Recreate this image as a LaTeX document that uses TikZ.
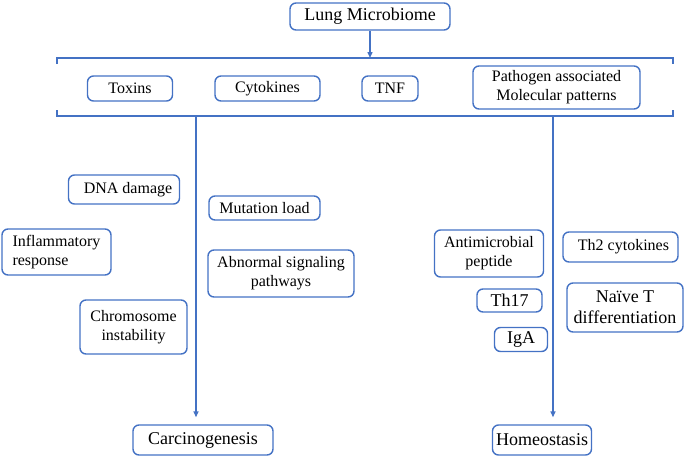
\documentclass[tikz,border=0pt]{standalone}
\usepackage{fontspec}
\setmainfont{LiberationSerif}[Extension=.ttf, UprightFont=*-Regular, BoldFont=*-Bold, ItalicFont=*-Italic, BoldItalicFont=*-BoldItalic]
\usetikzlibrary{arrows.meta}
\definecolor{lineblue}{RGB}{68,114,196}
\begin{document}
\begin{tikzpicture}[x=1pt,y=-1pt,
  box/.style={draw=lineblue, line width=1.4pt, rounded corners=6pt, align=center, inner sep=1pt, font=\fontsize{16}{19}\selectfont},
  bigbox/.style={box, font=\fontsize{18}{21}\selectfont},
  bracket/.style={draw=lineblue, line width=1.4pt},
  link/.style={draw=lineblue, line width=1.4pt, -{Triangle[length=6pt,width=5pt]}}]
\useasboundingbox (0,0) rectangle (685,461);
% top
\node[bigbox, minimum width=160, minimum height=27] (micro) at (370,16.5) {Lung Microbiome};
\node[box, minimum width=85, minimum height=25] (toxins) at (130,88.5) {Toxins};
\node[box, minimum width=105, minimum height=25] (cyto) at (267.5,88.5) {Cytokines};
\node[box, minimum width=56, minimum height=25] (tnf) at (390,88.5) {TNF};
\node[box, minimum width=167, minimum height=43] (pamp) at (556.5,87.5) {Pathogen associated\\Molecular patterns};
% bracket
\coordinate (brtop) at (370,58);
\coordinate (brL) at (196,116);
\coordinate (brR) at (553,116);
\draw[bracket] (57,64) -- (57,58) -- (673,58) -- (673,64);
\draw[bracket] (57,110) -- (57,116) -- (673,116) -- (673,110);
% carcinogenesis side
\node[box, minimum width=111, minimum height=29] (dna) at (124,189.5) {\hspace{8pt}DNA damage};
\node[box, minimum width=111, minimum height=24] (mut) at (264.5,208) {Mutation load};
\node[box, minimum width=109, minimum height=46, align=left] (infl) at (56.5,252) {Inflammatory\hspace{10pt}\\response};
\node[box, minimum width=146, minimum height=47] (abn) at (281,273.5) {Abnormal signaling\\pathways};
\node[box, minimum width=107, minimum height=54] (chrom) at (133.5,327) {Chromosome\\instability};
% homeostasis side
\node[box, minimum width=109, minimum height=47] (anti) at (489,253.5) {Antimicrobial\\peptide};
\node[box, minimum width=115, minimum height=30] (th2) at (620.5,247) {\hspace{6pt}Th2 cytokines};
\node[bigbox, minimum width=65, minimum height=23] (th17) at (509.5,300.5) {Th17};
\node[bigbox, minimum width=116, minimum height=49] (naive) at (625,307.5) {Naïve T\\differentiation};
\node[bigbox, minimum width=53, minimum height=24] (iga) at (521,339.5) {IgA};
% outcomes
\node[bigbox, minimum width=140, minimum height=30] (carc) at (203,440) {Carcinogenesis};
\node[bigbox, minimum width=99, minimum height=30] (homeo) at (542,440) {Homeostasis};
\draw[link] (micro) -- (brtop);
\draw[link, shorten >=7pt] (brL) -- (brL |- carc.north);
\draw[link, shorten >=7pt] (brR) -- (brR |- homeo.north);
\end{tikzpicture}
\end{document}
